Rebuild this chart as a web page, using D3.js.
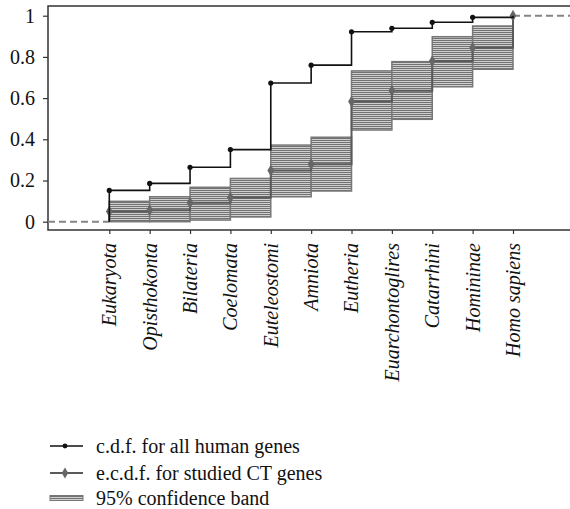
<!DOCTYPE html>
<html>
  <head>
    <meta charset="utf-8">
    <title>c.d.f. by taxon</title>
    <style>
      body { margin: 0; background: #fff; }
      svg text { font-family: "Liberation Serif", serif; fill: #111; }
    </style>
  </head>
  <body>
    <div id="chart"></div>
  </body>
  <script src="https://d3js.org/d3.v7.min.js"></script>
  <script>

    // taxa along the x axis
    let taxa = ["Eukaryota", "Opisthokonta", "Bilateria", "Coelomata", "Euteleostomi",
      "Amniota", "Eutheria", "Euarchontoglires", "Catarrhini", "Homininae", "Homo sapiens"];

    // c.d.f. for all human genes
    let cdfAll = [0.152, 0.186, 0.264, 0.35, 0.673, 0.76, 0.922, 0.939, 0.968, 0.992, 1];
    // e.c.d.f. for studied CT genes
    let ecdfCT = [0.05, 0.056, 0.092, 0.117, 0.248, 0.279, 0.583, 0.636, 0.78, 0.845, 1];
    // 95% confidence band (lower / upper), one box per step
    let bandLow = [0, 0, 0.008, 0.023, 0.121, 0.149, 0.445, 0.497, 0.655, 0.74];
    let bandHigh = [0.099, 0.121, 0.167, 0.21, 0.372, 0.41, 0.732, 0.777, 0.898, 0.95];

    let yTicks = [0, 0.2, 0.4, 0.6, 0.8, 1];
    let legendLabels = ["c.d.f. for all human genes", "e.c.d.f. for studied CT genes", "95% confidence band"];

    let W = 570, H = 509;
    let frame = {left: 48, top: 6, right: 580, bottom: 230};
    let serif = "'Liberation Serif', serif";

    let x = d3.scaleLinear().domain([0, 10]).range([109.3, 513]);
    let y = d3.scaleLinear().domain([0, 1]).range([221.7, 15.7]);

    let svg = d3.select("#chart").append("svg")
      .attr("width", W)
      .attr("height", H)
      .attr("font-family", serif);

    // hatch pattern for the band
    let pat = svg.append("defs").append("pattern")
      .attr("id", "hatch")
      .attr("patternUnits", "userSpaceOnUse")
      .attr("width", 4).attr("height", 2);
    pat.append("rect").attr("width", 4).attr("height", 2).attr("fill", "#cfcfcf");
    pat.append("rect").attr("width", 4).attr("height", 1).attr("fill", "#727272");

    // frame
    svg.append("path")
      .attr("d", `M${frame.right},${frame.top}H${frame.left}V${frame.bottom}H${frame.right}`)
      .attr("fill", "none")
      .attr("stroke", "#333")
      .attr("stroke-width", 1.5);

    // y axis
    let yAxis = svg.append("g")
      .attr("transform", `translate(${frame.left},0)`)
      .call(d3.axisLeft(y).tickValues(yTicks).tickSize(5).tickPadding(8)
        .tickFormat(d => d3.format("")(d)));
    yAxis.attr("font-family", serif);
    yAxis.select(".domain").remove();
    yAxis.selectAll(".tick line").attr("stroke", "#333").attr("stroke-width", 1.2);
    yAxis.selectAll(".tick text")
      .style("font-size", "20px")
      .style("font-family", serif)
      .attr("fill", "#111");

    // x axis
    let xAxis = svg.append("g")
      .attr("transform", `translate(0,${frame.bottom})`)
      .call(d3.axisBottom(x).tickValues(d3.range(taxa.length)).tickSize(4)
        .tickFormat(i => taxa[i]));
    xAxis.attr("font-family", serif);
    xAxis.select(".domain").remove();
    xAxis.selectAll(".tick line").attr("stroke", "#333").attr("stroke-width", 1.2);
    xAxis.selectAll(".tick text")
      .style("font-size", "20px")
      .style("font-style", "italic")
      .style("font-family", serif)
      .attr("fill", "#111")
      .attr("text-anchor", "end")
      .attr("transform", "rotate(-90)")
      .attr("x", -13)
      .attr("y", 0)
      .attr("dy", "0.32em");

    // confidence band boxes
    svg.append("g").selectAll("rect")
      .data(bandLow)
      .enter().append("rect")
      .attr("x", (d, i) => x(i))
      .attr("width", (d, i) => x(i + 1) - x(i))
      .attr("y", (d, i) => y(bandHigh[i]))
      .attr("height", (d, i) => y(d) - y(bandHigh[i]))
      .attr("fill", "url(#hatch)")
      .attr("stroke", "#777")
      .attr("stroke-width", 1.5);

    // dashed tails
    svg.append("path")
      .attr("d", `M${frame.left},${y(0)}H${x(0)}M${x(10)},${y(1)}H${frame.right}`)
      .attr("fill", "none")
      .attr("stroke", "#858585")
      .attr("stroke-width", 2)
      .attr("stroke-dasharray", "7,4");

    // step path builder
    function stepPath(vals) {
      let p = `M${x(0)},${y(0)}`;
      vals.forEach((v, i) => {
        p += `V${y(v)}`;
        if (i < vals.length - 1) p += `H${x(i + 1)}`;
      });
      return p;
    }

    // e.c.d.f. for CT genes
    svg.append("path")
      .attr("d", stepPath(ecdfCT))
      .attr("fill", "none")
      .attr("stroke", "#5a5a5a")
      .attr("stroke-width", 2);
    svg.append("g").selectAll("path")
      .data(ecdfCT)
      .enter().append("path")
      .attr("d", d3.symbol().type(d3.symbolDiamond).size(40))
      .attr("transform", (d, i) => `translate(${x(i)},${y(d)})`)
      .attr("fill", "#666");

    // c.d.f. for all genes
    svg.append("path")
      .attr("d", stepPath(cdfAll))
      .attr("fill", "none")
      .attr("stroke", "#111")
      .attr("stroke-width", 1.6);
    svg.append("g").selectAll("circle")
      .data(cdfAll.slice(0, 10))
      .enter().append("circle")
      .attr("cx", (d, i) => x(i))
      .attr("cy", d => y(d))
      .attr("r", 2.6)
      .attr("fill", "#111");

    // legend
    let lg = svg.append("g").attr("transform", "translate(50,446)");
    let rowY = [0, 27, 52];

    lg.append("line").attr("x1", 0).attr("x2", 33).attr("y1", rowY[0]).attr("y2", rowY[0])
      .attr("stroke", "#111").attr("stroke-width", 1.4);
    lg.append("circle").attr("cx", 15).attr("cy", rowY[0]).attr("r", 2.4).attr("fill", "#111");

    lg.append("line").attr("x1", 0).attr("x2", 33).attr("y1", rowY[1]).attr("y2", rowY[1])
      .attr("stroke", "#5a5a5a").attr("stroke-width", 1.8);
    lg.append("path").attr("d", d3.symbol().type(d3.symbolDiamond).size(36))
      .attr("transform", `translate(15,${rowY[1]})`).attr("fill", "#666");

    lg.append("rect").attr("x", 0).attr("y", rowY[2] - 2.5).attr("width", 33).attr("height", 5)
      .attr("fill", "url(#hatch)").attr("stroke", "#777").attr("stroke-width", 1);

    lg.selectAll("text.lab")
      .data(legendLabels)
      .enter().append("text")
      .attr("class", "lab")
      .attr("x", 46)
      .attr("y", (d, i) => rowY[i])
      .attr("dy", "0.35em")
      .style("font-size", "20px")
      .style("font-family", serif)
      .text(d => d);

  </script>
</html>
